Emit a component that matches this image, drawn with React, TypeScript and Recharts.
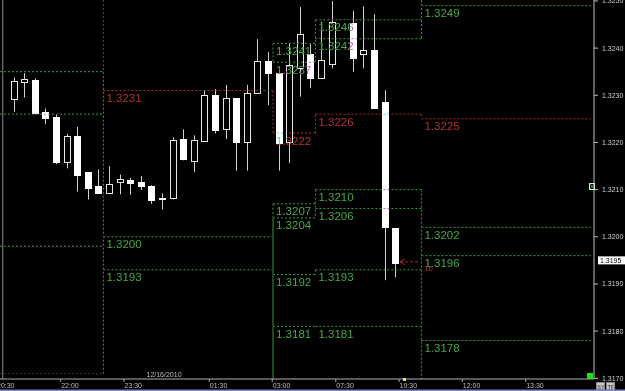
import React from "react";
import { ComposedChart, Bar, XAxis, YAxis, ReferenceLine } from "recharts";

// ---------- candle data (15-min bars, index = bar slot) ----------
const barIndex = Array.from({ length: 37 }, (_, k) => k);
const opens = [1.32292, 1.32329, 1.32332, 1.32265, 1.32253, 1.32159, 1.32213, 1.32137, 1.32108, 1.32092, 1.32116, 1.3212, 1.32116, 1.32108, 1.32082, 1.32082, 1.32207, 1.32161, 1.32204, 1.32301, 1.32228, 1.32294, 1.32202, 1.32304, 1.32372, 1.32347, 1.322, 1.32357, 1.32388, 1.32337, 1.32366, null, 1.32454, 1.32388, 1.32396, 1.32285, 1.32018];
const highs = [1.32338, 1.32347, 1.32336, 1.32272, 1.3226, 1.32218, 1.32233, 1.32137, 1.32143, 1.3215, 1.32132, 1.32125, 1.32129, 1.32109, 1.32092, 1.32211, 1.32228, 1.32215, 1.32311, 1.32313, 1.32322, 1.32294, 1.32322, 1.32419, 1.32392, 1.32347, 1.32411, 1.32487, 1.3241, 1.32456, 1.325, null, 1.32479, 1.32489, 1.32472, 1.32311, 1.32018];
const lows = [1.32265, 1.32295, 1.3226, 1.32239, 1.32154, 1.32145, 1.32096, 1.32079, 1.32092, 1.3209, 1.3209, 1.32089, 1.32099, 1.3207, 1.32058, 1.32079, 1.32162, 1.32137, 1.32202, 1.32219, 1.32207, 1.3214, 1.3214, 1.32304, 1.32279, 1.3214, 1.32156, 1.32297, 1.32315, 1.32337, 1.32357, null, 1.3235, 1.32357, 1.32272, 1.31908, 1.31914];
const closes = [1.3233, 1.32334, 1.32263, 1.32251, 1.32159, 1.32213, 1.3213, 1.32103, 1.32092, 1.32111, 1.32122, 1.32114, 1.32108, 1.32078, 1.32081, 1.32205, 1.32164, 1.32205, 1.32301, 1.32226, 1.32294, 1.32202, 1.32305, 1.32372, 1.32348, 1.32198, 1.32364, 1.3243, 1.32337, 1.32374, 1.32455, null, 1.32378, 1.32396, 1.32272, 1.32021, 1.31945];

// ---------- axes ----------
const timeTicks = [4.47, 10.44, 18.49, 24.43, 30.42, 36.39, 42.36, 48.34];
const timeLabels = ["22:00", "23:30", "01:30", "03:00", "07:30", "10:30", "12:00", "13:30"];
const priceTicks = [1.317, 1.318, 1.319, 1.32, 1.321, 1.322, 1.323, 1.324, 1.325];
const lastPrice = 1.3195;
const X_MIN = -1.255;
const X_MAX = 54.78;
const P_MIN = 1.316985;
const P_MAX = 1.32502;

// ---------- pivot level sessions ----------
const sessionBounds = [X_MIN, 8.5, 24.5, 28.5, 38.5, 54.5];
const greenA = [1.3235, 1.3226, 1.3198, 1.3171];
const greenB = [1.32, 1.3193];
const greenC = [1.3241, 1.3237, 1.3207, 1.3204, 1.3192, 1.3181];
const greenD = [1.3246, 1.3242, 1.321, 1.3206, 1.3193, 1.3181];
const greenE = [1.3249, 1.3202, 1.3196, 1.3178];
const redA: number[] = [];
const redB = [1.3231];
const redC = [1.3222];
const redD = [1.3226];
const redE = [1.3225];
const sessionGreen = [greenA, greenB, greenC, greenD, greenE];
const sessionRed = [redA, redB, redC, redD, redE];
const sessionLabeled = [false, true, true, true, true];

// vertical connectors between sessions
const connectorAt = [1, 1, 2, 2, 2, 3, 3, 3, 3, 4, 4, 4];
const connectorFrom = [P_MAX, 1.3235, 1.3231, 1.3241, 1.3207, 1.3222, 1.3246, 1.321, 1.3193, P_MAX, 1.3226, 1.321];
const connectorTo = [1.3231, 1.3171, 1.3222, 1.3237, 1.3204, 1.3226, 1.3237, 1.3204, 1.3192, 1.3242, 1.3225, P_MIN];
const connectorIsRed = [true, false, true, false, false, true, false, false, false, false, true, false];

// alert arrow
const alertPrice = 1.31947;
const alertFrom = 36.48;
const alertTo = 38.37;

const GREEN_LINE = "#3a9a3a";
const GREEN_TEXT = "#48a848";
const RED_LINE = "#a82c2c";
const RED_TEXT = "#b03232";
const FONT = "'Liberation Sans', Arial, sans-serif";

const Candle = (props: any) => {
  const { x, y, width, height, payload } = props;
  if (!payload || payload.o == null) return null;
  const { o, h, l, c } = payload;
  const top = Math.min(y, y + height);
  const bot = Math.max(y, y + height);
  const py = (v: number) => top + ((h - v) / (h - l || 1)) * (bot - top);
  const ic = Math.round(x + width / 2);
  const bull = c > o;
  const bTop = Math.round(py(Math.max(o, c)));
  let bBot = Math.round(py(Math.min(o, c)));
  if (bBot - bTop < 1) bBot = bTop + 1;
  return (
    <g>
      <line x1={ic + 0.5} x2={ic + 0.5} y1={top} y2={bot} stroke="#cfcfcf" strokeWidth={1} />
      <rect
        x={ic - 3 + 0.5}
        y={bTop + 0.5}
        width={6}
        height={bBot - bTop}
        fill={bull ? "#000" : "#fff"}
        stroke={bull ? "#e6e6e6" : "#fff"}
        strokeWidth={1}
      />
    </g>
  );
};

const TimeTick = (props: any) => {
  const { x, y, payload } = props;
  const k = timeTicks.indexOf(payload.value);
  return (
    <text x={x + 0.5} y={y + 3.5} fill="#bdbdbd" fontSize={7} fontFamily={FONT} textAnchor="start">
      {timeLabels[k]}
    </text>
  );
};

const levelLabel = (text: string, color: string) => (p: any) => {
  const vb = p.viewBox || {};
  return (
    <text x={(vb.x || 0) + 3} y={(vb.y || 0) + 11.5} fill={color} fontSize={11.5} fontFamily={FONT}>
      {text}
    </text>
  );
};

export default function App() {
  const data = barIndex
    .filter((i) => opens[i] != null)
    .map((i) => ({ i, o: opens[i], h: highs[i], l: lows[i], c: closes[i], range: [lows[i], highs[i]] }));

  const refs: React.ReactNode[] = [];
  sessionGreen.forEach((levels, s) => {
    const x1 = sessionBounds[s];
    const x2 = sessionBounds[s + 1];
    levels.forEach((p, k) => {
      refs.push(
        <ReferenceLine
          key={`g${s}-${k}`}
          className="lvl"
          segment={[{ x: x1, y: p }, { x: x2, y: p }]}
          stroke={GREEN_LINE}
          strokeDasharray="2 2"
          strokeOpacity={p === 1.3171 ? 0.45 : 1}
          ifOverflow="visible"
          label={sessionLabeled[s] ? levelLabel(p.toFixed(4), GREEN_TEXT) : undefined}
        />
      );
    });
    sessionRed[s].forEach((p, k) => {
      refs.push(
        <ReferenceLine
          key={`r${s}-${k}`}
          className="lvl"
          segment={[{ x: x1, y: p }, { x: x2, y: p }]}
          stroke={RED_LINE}
          strokeDasharray="2 2"
          ifOverflow="visible"
          label={sessionLabeled[s] ? levelLabel(p.toFixed(4), RED_TEXT) : undefined}
        />
      );
    });
  });
  connectorAt.forEach((b, k) => {
    const x = sessionBounds[b];
    refs.push(
      <ReferenceLine
        key={`c${k}`}
        className="lvl"
        segment={[{ x, y: connectorFrom[k] }, { x, y: connectorTo[k] }]}
        stroke={connectorIsRed[k] ? RED_LINE : GREEN_LINE}
        strokeDasharray="2 2"
        ifOverflow="visible"
      />
    );
  });

  return (
    <div style={{ position: "absolute", left: 0, top: 0, width: 625, height: 391, background: "#000", overflow: "hidden" }}>
      <style>{`.lvl{mix-blend-mode:difference}`}</style>
      <ComposedChart width={625} height={391} data={data} margin={{ top: 0, right: 0, bottom: 0, left: 0 }}>
        <XAxis
          dataKey="i"
          type="number"
          domain={[X_MIN, X_MAX]}
          allowDataOverflow
          ticks={timeTicks}
          interval={0}
          height={12}
          tick={<TimeTick />}
          tickSize={3}
          tickLine={{ stroke: "#aaa" }}
          axisLine={{ stroke: "#b0b0b0" }}
        />
        <YAxis
          orientation="right"
          type="number"
          domain={[P_MIN, P_MAX]}
          allowDataOverflow
          ticks={priceTicks}
          interval={0}
          width={31}
          tickSize={4}
          tickMargin={4}
          tickFormatter={(v: number) => v.toFixed(4)}
          tick={{ fill: "#cfcfcf", fontSize: 7, fontFamily: FONT }}
          tickLine={{ stroke: "#bbb" }}
          axisLine={{ stroke: "#bdbdbd" }}
        />
        <ReferenceLine x={-1} stroke="#8a8a8a" ifOverflow="visible" />
        <ReferenceLine
          segment={[{ x: sessionBounds[2], y: 1.3204 }, { x: sessionBounds[2], y: P_MIN }]}
          stroke="#2f9a2f"
          ifOverflow="visible"
        />
        <Bar dataKey="range" isAnimationActive={false} barSize={7} shape={(p: any) => <Candle {...p} />} />
        {refs}
        <ReferenceLine
          segment={[{ x: alertFrom, y: alertPrice }, { x: alertTo, y: alertPrice }]}
          stroke={RED_LINE}
          strokeDasharray="3 2"
          ifOverflow="visible"
          label={(p: any) => {
            const vb = p.viewBox || {};
            const x0 = vb.x || 0;
            const y0 = vb.y || 0;
            const w = vb.width || 0;
            return (
              <g>
                <path d={`M${x0 + 5} ${y0 - 3} L${x0} ${y0} L${x0 + 5} ${y0 + 3}`} stroke={RED_LINE} fill="none" />
                <text x={x0 + w + 4} y={y0 + 9} fill={RED_TEXT} fontSize={8} fontFamily={FONT}>
                  16
                </text>
              </g>
            );
          }}
        />
        <ReferenceLine
          y={lastPrice}
          stroke="none"
          ifOverflow="visible"
          label={(p: any) => {
            const vb = p.viewBox || {};
            const x0 = (vb.x || 0) + (vb.width || 0) + 4;
            const y0 = vb.y || 0;
            return (
              <g>
                <rect x={x0} y={y0 - 4} width={27} height={8} fill="#fff" />
                <text x={x0 + 2} y={y0 + 2.6} fill="#000" fontSize={7} fontFamily={FONT}>
                  {lastPrice.toFixed(4)}
                </text>
              </g>
            );
          }}
        />
      </ComposedChart>
      <svg width={625} height={391} style={{ position: "absolute", left: 0, top: 0, pointerEvents: "none" }}>
        <text x={-3} y={387.5} fill="#bdbdbd" fontSize={7} fontFamily={FONT}>20:30</text>
        <text x={146.5} y={376.5} fill="#bdbdbd" fontSize={7} fontFamily={FONT}>12/16/2010</text>
        <rect x={589.5} y={183.5} width={5} height={6} fill="none" stroke="#ddd" />
        <path d="M590 184 L594 189 M594 184 L590 189" stroke="#6c6" strokeWidth={0.8} />
        <rect x={587} y={373} width={6} height={6} fill="#19e019" />
        <rect x={403} y={378} width={3} height={3} fill="#f0e060" />
        <rect x={596.5} y={382.5} width={8} height={7} fill="#c8c8c8" stroke="#888" />
        <text x={597.3} y={388.6} fill="#222" fontSize={5.5} fontFamily={FONT}>SY</text>
        <rect x={606.5} y={382.5} width={8} height={7} fill="#c8c8c8" stroke="#888" />
        <text x={607.5} y={388.6} fill="#222" fontSize={5.5} fontFamily={FONT}>TF</text>
        <rect x={0} y={389.5} width={625} height={2} fill="#7c86c6" />
      </svg>
    </div>
  );
}
